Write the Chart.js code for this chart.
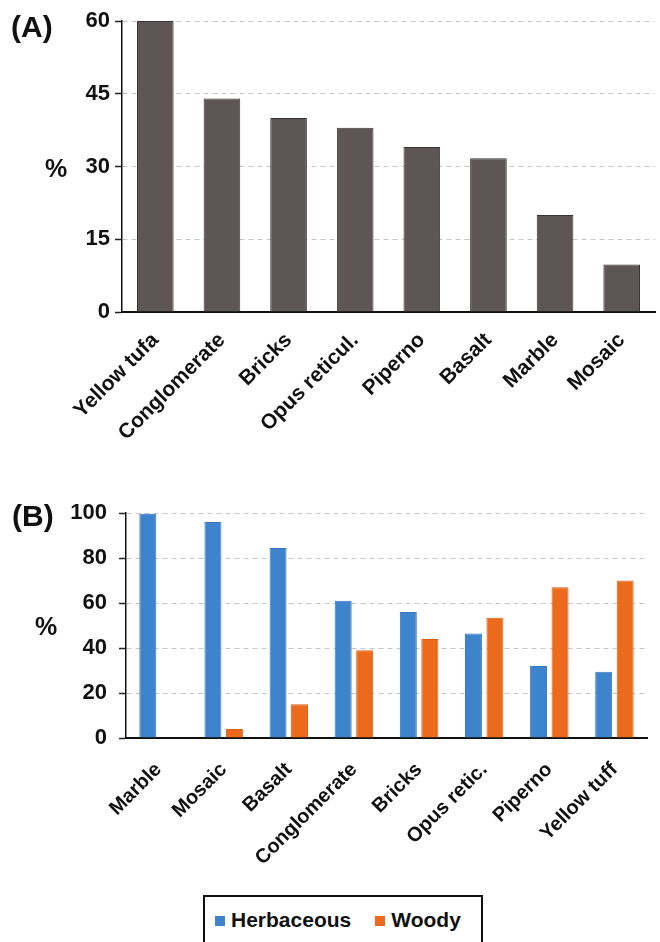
<!DOCTYPE html>
<html>
<head>
<meta charset="utf-8">
<script src="https://cdn.jsdelivr.net/npm/chart.js@4/dist/chart.umd.min.js"></script>
<style>
  html, body { margin: 0; padding: 0; background: #fff; overflow: hidden; }
  #wrap { position: relative; width: 660px; height: 942px; }
  canvas { position: absolute; left: 0; }
  #cA { top: 0; }
  #cB { top: 470px; }
  #legend {
    position: absolute; left: 203px; top: 895px; width: 276px; height: 70px;
    border: 2px solid #111; box-sizing: content-box;
    font: bold 21px "Liberation Sans", Arial, sans-serif; color: #111;
    display: flex; align-items: flex-start; padding-top: 11px;
  }
  .item { display: flex; align-items: center; margin-left: 10px; margin-right: 12px; }
  .item + .item { margin-left: 12px; }
  .sw { width: 10px; height: 10px; margin-right: 6px; margin-top: 2px; }
</style>
</head>
<body>
<div id="wrap">
  <canvas id="cA" width="660" height="470"></canvas>
  <canvas id="cB" width="660" height="420"></canvas>
  <div id="legend"></div>
</div>
<script>
// Panel A: share of records on each material
const materialsA = ['Yellow tufa', 'Conglomerate', 'Bricks', 'Opus reticul.', 'Piperno', 'Basalt', 'Marble', 'Mosaic'];
const percentA = [60, 44, 40, 38, 34, 31.7, 20, 9.8];
const ticksA = [0, 15, 30, 45, 60];

// Panel B: herbaceous vs woody share on each material
const materialsB = ['Marble', 'Mosaic', 'Basalt', 'Conglomerate', 'Bricks', 'Opus retic.', 'Piperno', 'Yellow tuff'];
const herbaceous = [99.7, 96, 84.5, 61, 56, 46.5, 32, 29.5];
const woody = [0, 4, 15, 39, 44, 53.5, 67, 70];
const ticksB = [0, 20, 40, 60, 80, 100];
const seriesNames = ['Herbaceous', 'Woody'];
const seriesColors = ['#3d84cc', '#ec6a1c'];
const seriesBorders = ['#3577bd', '#d95f15'];

const FONT = '"Liberation Sans", Arial, sans-serif';
Chart.defaults.font.family = FONT;
Chart.defaults.font.weight = 'bold';
Chart.defaults.color = '#111';

// Panel letter and unit label drawn beside the value axis
const panelText = {
  id: 'panelText',
  afterDraw(chart, args, opts) {
    const { ctx, chartArea } = chart;
    ctx.save();
    ctx.fillStyle = '#111';
    ctx.textBaseline = 'middle';
    ctx.textAlign = 'left';
    ctx.font = 'bold 30px ' + FONT;
    ctx.fillText(opts.panel, opts.panelX, opts.panelY);
    ctx.textAlign = 'center';
    ctx.font = 'bold 25px ' + FONT;
    ctx.fillText(opts.unit, opts.unitX, (chartArea.top + chartArea.bottom) / 2 + opts.unitDy);
    ctx.restore();
  }
};

function valueAxis(ticks, width, pad) {
  return {
    min: ticks[0],
    max: ticks[ticks.length - 1],
    afterBuildTicks(scale) { scale.ticks = ticks.map(v => ({ value: v })); },
    afterFit(scale) { scale.width = width; },
    ticks: { font: { size: 22, weight: 'bold' }, padding: pad, color: '#111' },
    grid: {
      color: '#c6c6c6', lineWidth: 1, drawTicks: true, tickLength: 7,
      tickColor: '#222', tickWidth: 1.5, tickBorderDash: []
    },
    border: { display: true, color: '#111', width: 1.5, dash: [5, 4] }
  };
}

function categoryAxis(height, size, pad) {
  return {
    afterFit(scale) { scale.height = height; },
    ticks: {
      font: { size: size, weight: 'bold' }, color: '#111',
      minRotation: 45, maxRotation: 45, autoSkip: false, padding: pad
    },
    grid: { display: false, drawTicks: false },
    border: { display: true, color: '#111', width: 2 }
  };
}

new Chart(document.getElementById('cA'), {
  type: 'bar',
  data: {
    labels: materialsA,
    datasets: [{
      data: percentA,
      backgroundColor: '#5e5656',
      borderColor: '#3a3434',
      borderWidth: 1,
      barPercentage: 0.55,
      categoryPercentage: 1
    }]
  },
  options: {
    responsive: false, animation: false, devicePixelRatio: 1,
    layout: { padding: { top: 21, right: 5, left: 0, bottom: 0 } },
    plugins: {
      legend: { display: false }, tooltip: { enabled: false },
      panelText: { panel: '(A)', panelX: 11, panelY: 29, unit: '%', unitX: 56, unitDy: 4 }
    },
    scales: {
      x: categoryAxis(158, 21, 16),
      y: valueAxis(ticksA, 122, 5)
    }
  },
  plugins: [panelText]
});

new Chart(document.getElementById('cB'), {
  type: 'bar',
  data: {
    labels: materialsB,
    datasets: [herbaceous, woody].map((vals, i) => ({
      label: seriesNames[i],
      data: vals,
      backgroundColor: seriesColors[i],
      borderColor: seriesBorders[i],
      borderWidth: 1,
      barPercentage: 0.79,
      categoryPercentage: 0.66
    }))
  },
  options: {
    responsive: false, animation: false, devicePixelRatio: 1,
    layout: { padding: { top: 43, right: 13, left: 0, bottom: 0 } },
    plugins: {
      legend: { display: false }, tooltip: { enabled: false },
      panelText: { panel: '(B)', panelX: 12, panelY: 48, unit: '%', unitX: 46, unitDy: 3 }
    },
    scales: {
      x: categoryAxis(152, 20, 20),
      y: valueAxis(ticksB, 126, 12)
    }
  },
  plugins: [panelText]
});

// Boxed legend under panel B
const legend = document.getElementById('legend');
seriesNames.forEach((name, i) => {
  const item = document.createElement('div');
  item.className = 'item';
  const sw = document.createElement('span');
  sw.className = 'sw';
  sw.style.background = seriesColors[i];
  item.appendChild(sw);
  item.appendChild(document.createTextNode(name));
  legend.appendChild(item);
});
</script>
</body>
</html>
